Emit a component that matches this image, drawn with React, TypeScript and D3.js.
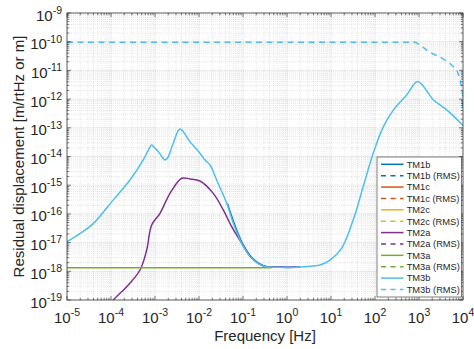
import React from 'react';
import * as d3 from 'd3';

const W = 474;
const H = 349;
const PL = 67, PR = 463, PT = 13, PB = 300;

const xExps = [-5, -4, -3, -2, -1, 0, 1, 2, 3, 4];
const yExps = [-19, -18, -17, -16, -15, -14, -13, -12, -11, -10, -9];

const names = ['TM1b', 'TM1b (RMS)', 'TM1c', 'TM1c (RMS)', 'TM2c', 'TM2c (RMS)', 'TM2a', 'TM2a (RMS)', 'TM3a', 'TM3a (RMS)', 'TM3b', 'TM3b (RMS)'];
const colors = ['#0072BD', '#0072BD', '#D95319', '#D95319', '#EDB120', '#EDB120', '#7E2F8E', '#7E2F8E', '#77AC30', '#77AC30', '#4DBEEE', '#4DBEEE'];

// TM3b (light blue) ASD
const tm3bF = [1e-5, 2.0e-5, 4.0e-5, 1.12e-4, 2.7e-4, 5.4e-4, 7.2e-4, 8.4e-4, 1.0e-3, 1.19e-3, 1.5e-3, 1.7e-3, 1.95e-3, 2.6e-3, 3.7e-3, 6.2e-3, 1.05e-2, 1.37e-2, 1.78e-2, 2.52e-2, 4.27e-2, 6.03e-2, 9.33e-2, 0.158, 0.289, 0.693, 1.66, 3.97, 5.6, 9.5, 17.4, 32, 54, 91, 155, 263, 525, 933, 2140, 4270, 1e4];
const tm3bV = [1.07e-17, 2.09e-17, 4.68e-17, 3.02e-16, 1.51e-15, 7.59e-15, 1.78e-14, 2.51e-14, 1.95e-14, 1.48e-14, 9.0e-15, 7.6e-15, 9.0e-15, 2.9e-14, 9.1e-14, 3.3e-14, 1.3e-14, 7.55e-15, 5.06e-15, 1.52e-15, 2.34e-16, 4.7e-17, 9.46e-18, 2.84e-18, 1.53e-18, 1.38e-18, 1.38e-18, 1.53e-18, 1.66e-18, 2.45e-18, 6.3e-18, 6.2e-17, 8.9e-16, 1.3e-14, 1.1e-13, 4.2e-13, 1.4e-12, 4.1e-12, 9.3e-13, 4.2e-13, 1.2e-13];

// TM3b RMS (dashed)
const tm3bRmsF = [1e-5, 815, 1050, 1780, 3020, 5010, 7240, 8500, 9800, 1e4];
const tm3bRmsV = [9.6e-11, 9.6e-11, 7.7e-11, 4.2e-11, 2.9e-11, 1.78e-11, 1.02e-11, 5.2e-12, 1.5e-12, 5e-13];

// TM2a (purple)
const tm2aF = [7e-5, 1.13e-4, 2.28e-4, 4.56e-4, 6.47e-4, 8.4e-4, 1.3e-3, 2.19e-3, 4.05e-3, 6.2e-3, 1.05e-2, 2.11e-2, 3.56e-2, 5.53e-2, 9.33e-2, 0.158, 0.289, 0.693, 2.0];
const tm2aV = [3e-20, 1e-19, 2.9e-19, 1.11e-18, 5.5e-18, 4.1e-17, 1.05e-16, 5.2e-16, 1.74e-15, 1.66e-15, 1.4e-15, 5.2e-16, 1.37e-16, 3.58e-17, 9.6e-18, 2.9e-18, 1.55e-18, 1.4e-18, 1.4e-18];

// TM3a (green)
const tm3aF = [1e-5, 0.45];
const tm3aV = [1.34e-18, 1.34e-18];

// TM1b (dark blue), mostly hidden under TM3b
const tm1bF = [4.4e-2, 6.3e-2, 9.7e-2, 0.164, 0.3, 0.72, 1.6];
const tm1bV = [2.34e-16, 4.7e-17, 9.46e-18, 2.84e-18, 1.53e-18, 1.38e-18, 1.38e-18];

const seriesF: number[][] = [tm1bF, [], [], [], [], [], tm2aF, [], tm3aF, [], tm3bF, tm3bRmsF];
const seriesV: number[][] = [tm1bV, [], [], [], [], [], tm2aV, [], tm3aV, [], tm3bV, tm3bRmsV];

const FONT = "'Liberation Sans', Arial, Helvetica, sans-serif";
const INK = '#262626';

export default function App() {
  const x = d3.scaleLog().domain([1e-5, 1e4]).range([PL, PR]);
  const y = d3.scaleLog().domain([1e-19, 1e-9]).range([PB, PT]);

  const minorX: number[] = [];
  xExps.slice(0, -1).forEach((e) => { for (let k = 2; k <= 9; k++) minorX.push(k * Math.pow(10, e)); });
  const minorY: number[] = [];
  yExps.slice(0, -1).forEach((e) => { for (let k = 2; k <= 9; k++) minorY.push(k * Math.pow(10, e)); });
  const majX = xExps.map((e) => Math.pow(10, e));
  const majY = yExps.map((e) => Math.pow(10, e));

  const line = d3.line<[number, number]>().x((d) => x(d[0])).y((d) => y(d[1])).curve(d3.curveCatmullRom.alpha(0.5));
  const lineStraight = d3.line<[number, number]>().x((d) => x(d[0])).y((d) => y(d[1]));

  const legX0 = 377, legY0 = 157, legX1 = 461.5, legY1 = 297;
  const rowY = (i: number) => 164.3 + i * 11.38;

  return (
    <svg width={W} height={H} style={{ position: 'absolute', left: 0, top: 0, background: '#fff' }} fontFamily={FONT}>
      <rect x={0} y={0} width={W} height={H} fill="#fff" />
      <defs>
        <clipPath id="plotclip">
          <rect x={PL} y={PT} width={PR - PL} height={PB - PT} />
        </clipPath>
      </defs>
      {/* minor grid */}
      <g stroke={INK} strokeWidth={0.5} strokeOpacity={0.22} strokeDasharray="1,1">
        {minorX.map((v, i) => <line key={'mx' + i} x1={x(v)} x2={x(v)} y1={PT} y2={PB} />)}
        {minorY.map((v, i) => <line key={'my' + i} x1={PL} x2={PR} y1={y(v)} y2={y(v)} />)}
      </g>
      {/* major grid */}
      <g stroke={INK} strokeWidth={0.5} strokeOpacity={0.18}>
        {majX.map((v, i) => <line key={'Mx' + i} x1={x(v)} x2={x(v)} y1={PT} y2={PB} />)}
        {majY.map((v, i) => <line key={'My' + i} x1={PL} x2={PR} y1={y(v)} y2={y(v)} />)}
      </g>
      {/* series */}
      <g clipPath="url(#plotclip)" fill="none" strokeWidth={1.5} strokeLinejoin="round">
        {seriesF.map((fs, si) => {
          if (!fs.length) return null;
          const pts = fs.map((f, j) => [f, seriesV[si][j]] as [number, number]);
          const dashed = si % 2 === 1;
          const gen = dashed ? lineStraight : line;
          return <path key={si} d={gen(pts) || ''} stroke={colors[si]} strokeDasharray={dashed ? '6,4.5' : undefined} />;
        })}
      </g>
      {/* ticks */}
      <g stroke={INK} strokeWidth={0.6}>
        {majX.map((v, i) => (
          <g key={'tx' + i}>
            <line x1={x(v)} x2={x(v)} y1={PB} y2={PB - 4} />
            <line x1={x(v)} x2={x(v)} y1={PT} y2={PT + 4} />
          </g>
        ))}
        {minorX.map((v, i) => (
          <g key={'tmx' + i}>
            <line x1={x(v)} x2={x(v)} y1={PB} y2={PB - 2.2} />
            <line x1={x(v)} x2={x(v)} y1={PT} y2={PT + 2.2} />
          </g>
        ))}
        {majY.map((v, i) => (
          <g key={'ty' + i}>
            <line x1={PL} x2={PL + 4} y1={y(v)} y2={y(v)} />
            <line x1={PR} x2={PR - 4} y1={y(v)} y2={y(v)} />
          </g>
        ))}
        {minorY.map((v, i) => (
          <g key={'tmy' + i}>
            <line x1={PL} x2={PL + 2.2} y1={y(v)} y2={y(v)} />
            <line x1={PR} x2={PR - 2.2} y1={y(v)} y2={y(v)} />
          </g>
        ))}
      </g>
      <rect x={PL} y={PT} width={PR - PL} height={PB - PT} fill="none" stroke={INK} strokeWidth={0.7} />
      {/* tick labels */}
      <g fill={INK} fontSize={15}>
        {xExps.map((e, i) => (
          <text key={'xl' + i} x={x(Math.pow(10, e))} y={323.3} textAnchor="middle">
            10<tspan dy={-7} fontSize={10.5}>{String(e)}</tspan>
          </text>
        ))}
        {yExps.map((e, i) => (
          <text key={'yl' + i} x={62} y={y(Math.pow(10, e)) + 7.5} textAnchor="end">
            10<tspan dy={-6.7} fontSize={10.5}>{String(e)}</tspan>
          </text>
        ))}
      </g>
      <text x={(PL + PR) / 2} y={341} textAnchor="middle" fontSize={15} fill={INK}>Frequency [Hz]</text>
      <text transform={`translate(24,${(PT + PB) / 2}) rotate(-90)`} textAnchor="middle" fontSize={15} fill={INK}>Residual displacement [m/rtHz or m]</text>
      {/* legend */}
      <rect x={legX0} y={legY0} width={legX1 - legX0} height={legY1 - legY0} fill="#fff" stroke={INK} strokeWidth={0.6} />
      {names.map((n, i) => (
        <g key={'lg' + i}>
          <line x1={381} x2={403.5} y1={rowY(i)} y2={rowY(i)} stroke={colors[i]} strokeWidth={1.5} strokeDasharray={i % 2 === 1 ? '5,4.5' : undefined} />
          <text x={406.7} y={rowY(i) + 3.3} fontSize={9.3} fill={INK}>{n}</text>
        </g>
      ))}
    </svg>
  );
}
